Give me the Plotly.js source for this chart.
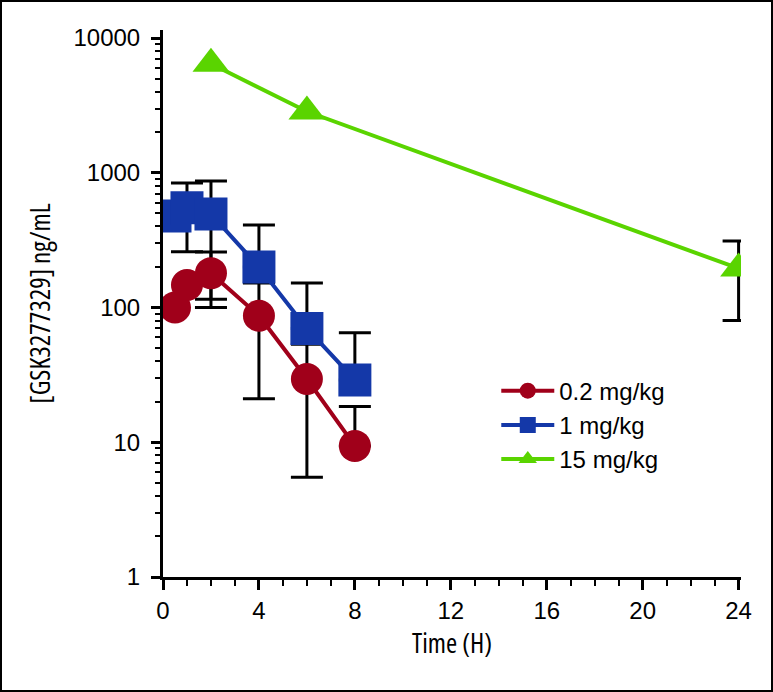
<!DOCTYPE html>
<html>
<head>
<meta charset="utf-8">
<script src="https://cdn.plot.ly/plotly-3.0.1.min.js"></script>
<style>
  html, body { margin: 0; padding: 0; background: #fff; }
  #wrap { position: relative; width: 773px; height: 692px; }
  #chart { width: 773px; height: 692px; }
  #frame { position: absolute; left: 0; top: 0; width: 773px; height: 692px; box-sizing: border-box; border: 2px solid #000; pointer-events: none; }
  .xtitle, .ytitle { font-stretch: 75%; }
</style>
</head>
<body>
<div id="wrap"><div id="chart"></div><div id="frame"></div></div>
<script>
// ---- data ----
const seriesNames = ["0.2 mg/kg", "1 mg/kg", "15 mg/kg"];

const timeLow = [0.5, 1, 2, 4, 6, 8];
const concLow = [100, 147, 180, 87, 29.5, 9.4];
const errLowPlus = [NaN, NaN, 78, 65, 24, 9];
const errLowMinus = [NaN, NaN, 80, 66, 24, 0];

const timeMid = [0.5, 1, 2, 4, 6, 8];
const concMid = [478, 550, 494, 200, 70, 29];
const errMidPlus = [NaN, 290, 376, 210, 82, 36];
const errMidMinus = [NaN, 290, 379, 0, 0, 0];

const timeHigh = [2, 6, 24];
const concHigh = [6450, 2850, 195];
const errHighPlus = [NaN, NaN, 117];
const errHighMinus = [NaN, NaN, 115];

const xTicks = [0, 4, 8, 12, 16, 20, 24];

// ---- styling ----
const colors = ["#a0001a", "#1438a8", "#5ad400"];
const symbols = ["circle", "square", "triangle-up"];
const sizes = [32, 33, 32];
const font = "Liberation Sans, Arial, Helvetica, sans-serif";
const titleFont = "Open Sans, Liberation Sans, sans-serif";

const series = [
  [timeLow, concLow, errLowPlus, errLowMinus],
  [timeMid, concMid, errMidPlus, errMidMinus],
  [timeHigh, concHigh, errHighPlus, errHighMinus]
];

// error bars first (drawn underneath the markers)
const errTraces = series.map((s, i) => ({
  type: "scatter", mode: "markers", x: s[0], y: s[1],
  showlegend: false, hoverinfo: "skip",
  marker: {size: 1, opacity: 0, color: colors[i]},
  error_y: {type: "data", symmetric: false, array: s[2], arrayminus: s[3],
            color: "#000", thickness: 3, width: 16}
}));

const mainTraces = series.map((s, i) => ({
  type: "scatter", mode: "lines+markers", name: seriesNames[i],
  x: s[0], y: s[1],
  line: {color: colors[i], width: 4},
  marker: {color: colors[i], symbol: symbols[i], size: sizes[i], line: {width: 0}}
}));

const data = errTraces.concat(mainTraces);

const layout = {
  width: 773, height: 692,
  margin: {l: 163, r: 32, t: 30, b: 115},
  paper_bgcolor: "#fff", plot_bgcolor: "#fff",
  font: {family: font, size: 24, color: "#000"},
  showlegend: true,
  legend: {x: 0.5766, y: 0.381, xanchor: "left", yanchor: "top",
           bgcolor: "rgba(0,0,0,0)", font: {family: font, size: 24, color: "#000"},
           itemwidth: 53, tracegroupgap: 0},
  xaxis: {
    range: [0, 24.1], tickvals: xTicks, ticktext: xTicks.map(String),
    showline: true, linewidth: 3, linecolor: "#000",
    ticks: "outside", ticklen: 10, tickwidth: 3, tickcolor: "#000",
    showgrid: false, zeroline: false,
    minor: {dtick: 1, tick0: 0, ticks: "outside", ticklen: 6, tickwidth: 2, tickcolor: "#000", showgrid: false},
    tickfont: {family: font, size: 24, color: "#000"},
    title: {text: "Time (H)", font: {family: titleFont, size: 27, color: "#000"}, standoff: 12}
  },
  yaxis: {
    type: "log", range: [0, 4.06], dtick: 1, tickformat: "d",
    showline: true, linewidth: 3, linecolor: "#000",
    ticks: "outside", ticklen: 9, tickwidth: 3, tickcolor: "#000",
    showgrid: false, zeroline: false,
    minor: {dtick: "D1", ticks: "outside", ticklen: 5, tickwidth: 2, tickcolor: "#000", showgrid: false},
    tickfont: {family: font, size: 24, color: "#000"},
    ticklabelstandoff: 6,
    title: {text: "[GSK3277329] ng/mL", font: {family: titleFont, size: 27, color: "#000"}, standoff: 16}
  }
};

Plotly.newPlot("chart", data, layout, {staticPlot: true, displayModeBar: false});
</script>
</body>
</html>
